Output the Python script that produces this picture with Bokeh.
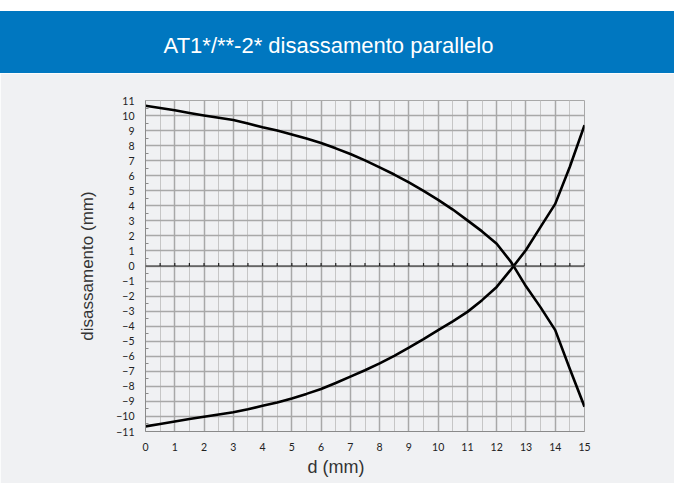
from bokeh.plotting import figure
from bokeh.models import Div, Range1d, FixedTicker, Span, Title
from bokeh.layouts import column
from bokeh.embed import file_html
from bokeh.resources import INLINE

# ---- data ----
title_text = "AT1*/**-2* disassamento parallelo"
x_label = "d (mm)"
y_label = "disassamento (mm)"

d_values = [0, 0.5, 1, 1.5, 2, 2.5, 3, 3.5, 4, 4.5, 5, 5.5, 6, 6.5, 7, 7.5,
            8, 8.5, 9, 9.5, 10, 10.5, 11, 11.5, 12, 12.5, 13, 13.5, 14, 14.5, 15]
curve_down = [10.65, 10.5, 10.35, 10.17, 10.0, 9.85, 9.7, 9.47, 9.22, 9.0,
              8.74, 8.47, 8.17, 7.82, 7.44, 7.02, 6.56, 6.08, 5.56, 5.0,
              4.4, 3.75, 3.03, 2.3, 1.48, 0.24, -1.35, -2.75, -4.26, -6.85, -9.35]
curve_up = [-10.66, -10.5, -10.33, -10.17, -10.02, -9.87, -9.72, -9.52, -9.29,
            -9.07, -8.8, -8.5, -8.17, -7.78, -7.35, -6.93, -6.47, -5.97, -5.43,
            -4.86, -4.26, -3.68, -3.05, -2.27, -1.39, -0.2, 1.06, 2.6, 4.13,
            6.6, 9.36]

x_ticks = list(range(0, 16))
x_minor = [i + 0.5 for i in range(0, 15)]
y_ticks = list(range(-11, 12))
y_minor = [i + 0.5 for i in range(-11, 11)]
zero_ticks = [i * 0.5 for i in range(0, 31)]

BLUE = "#0077c0"
BG = "#f0f1f3"
GRID = "#a8a8a8"
GRID_MINOR = "#c6c6c6"

header = Div(
    text=title_text,
    width=674, height=62,
    margin=(11, 0, 0, 0),
    styles={
        "background-color": BLUE,
        "color": "white",
        "font-family": "'Liberation Sans', Arial, sans-serif",
        "font-size": "22px",
        "text-align": "center",
        "text-indent": "-17px",
        "line-height": "69px",
        "overflow": "hidden",
    },
)

p = figure(
    width=674, height=410,
    x_range=Range1d(0, 15), y_range=Range1d(-11, 11),
    output_backend="svg", toolbar_location=None,
    min_border_left=145, min_border_right=90,
    min_border_top=27, min_border_bottom=52,
    background_fill_color=BG, border_fill_color=BG,
)
p.outline_line_color = GRID

# axes
p.xaxis.ticker = FixedTicker(ticks=x_ticks, minor_ticks=x_minor)
p.yaxis.ticker = FixedTicker(ticks=y_ticks, minor_ticks=y_minor)
for ax in (p.xaxis, p.yaxis):
    ax.axis_line_color = "#8a8a8a"
    ax.major_tick_out = 0
    ax.major_tick_in = 0
    ax.major_label_text_font = "Lato"
    ax.major_label_text_font_size = "10.5px"
    ax.major_label_text_color = "#222222"
p.xaxis.minor_tick_out = 0
p.xaxis.minor_tick_in = 0
p.yaxis.minor_tick_out = 0
p.yaxis.minor_tick_in = 3
p.yaxis.minor_tick_line_color = "#8a8a8a"
p.yaxis.major_label_standoff = 11
p.xaxis.major_label_standoff = 11

p.yaxis.axis_label = y_label
p.yaxis.axis_label_text_font = "Liberation Sans"
p.yaxis.axis_label_text_font_size = "17px"
p.yaxis.axis_label_text_font_style = "normal"
p.yaxis.axis_label_text_color = "#333333"
p.yaxis.axis_label_standoff = 16

# x-axis title, placed left of centre as in the reference
p.add_layout(Title(text=x_label, align="left", offset=162, standoff=3,
                   text_font="Liberation Sans", text_font_size="18px",
                   text_font_style="normal", text_color="#333333"), "below")

# grids
p.xgrid.grid_line_color = GRID
p.xgrid.grid_line_width = 1.5
p.xgrid.minor_grid_line_color = GRID_MINOR
p.xgrid.minor_grid_line_width = 1
p.ygrid.grid_line_color = GRID
p.ygrid.grid_line_width = 1.3

# zero line with small ticks
p.add_layout(Span(location=0, dimension="width", line_color="#222222", line_width=1.2))
p.segment(x0=zero_ticks, y0=[0] * len(zero_ticks), x1=zero_ticks,
          y1=[0.2] * len(zero_ticks), line_color="#222222", line_width=1.2)

# curves
p.line(d_values, curve_down, line_color="black", line_width=2.6, line_join="round")
p.line(d_values, curve_up, line_color="black", line_width=2.6, line_join="round")

layout = column(header, p, spacing=0)

html = file_html(layout, INLINE, title="AT1 disassamento parallelo")
html = html.replace("<head>", "<head><style>html,body{margin:0;padding:0;background:#ffffff;}</style>", 1)
open("out.html", "w").write(html)
